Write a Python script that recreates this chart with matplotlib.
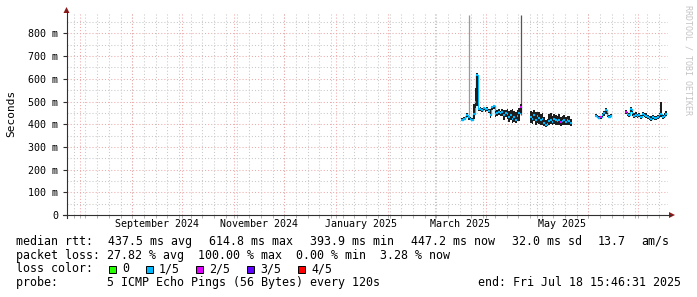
import numpy as np
import matplotlib
matplotlib.use('Agg')
import matplotlib.pyplot as plt
import matplotlib.dates as mdates
from matplotlib.lines import Line2D
from matplotlib.patches import Polygon, Rectangle
from datetime import datetime, timedelta

# ---- data (daily median rtt in ms, smoke range, loss out of 5) ----
seg_start = ['2025-03-17', '2025-04-27', '2025-06-05', '2025-06-23']
med_ms = [
    [420, 425, 432, 440, 430, 425, 420, 445, 500, 615, 465, 468, 462, 470, 465, 468, 458, 440,
     475, 480, 445, 450, 455, 448, 452, 440, 450, 445, 432, 440, 425, 430, 420, 438, 450, 475],
    [430, 425, 440, 420, 435, 428, 418, 422, 405, 398, 402, 415, 420, 410, 425, 418, 412, 420,
     408, 415, 420, 410, 418, 412, 405],
    [438, 432, 428, 430, 440, 448, 462, 440, 432, 438],
    [453, 445, 440, 467, 448, 438, 442, 435, 440, 432, 445, 440, 438, 430, 428, 425, 430, 426,
     428, 432, 440, 445, 432, 438, 447],
]
lo_ms = [
    [414, 418, 426, 430, 420, 418, 414, 425, 470, 480, 458, 460, 455, 462, 456, 460, 448, 428,
     462, 466, 430, 436, 440, 436, 438, 420, 432, 425, 410, 420, 405, 410, 405, 412, 415, 448],
    [405, 400, 412, 398, 405, 400, 395, 398, 390, 388, 392, 395, 400, 395, 400, 396, 395, 398,
     394, 396, 398, 395, 396, 395, 392],
    [430, 426, 422, 424, 432, 438, 445, 432, 426, 430],
    [443, 434, 430, 452, 436, 428, 432, 426, 430, 423, 434, 430, 428, 422, 418, 416, 422, 418,
     420, 424, 428, 433, 424, 428, 438],
]
hi_ms = [
    [426, 432, 438, 448, 438, 432, 426, 490, 560, 624, 472, 475, 470, 478, 472, 476, 466, 465,
     482, 486, 460, 462, 466, 460, 466, 462, 464, 466, 460, 462, 465, 458, 452, 462, 472, 488],
    [460, 455, 462, 452, 456, 452, 444, 448, 430, 420, 425, 445, 448, 436, 446, 442, 434, 444,
     432, 438, 442, 432, 436, 434, 424],
    [447, 440, 436, 438, 448, 458, 470, 448, 440, 446],
    [462, 454, 450, 474, 457, 448, 452, 444, 450, 442, 454, 450, 448, 440, 438, 434, 440, 436,
     438, 442, 450, 500, 442, 448, 457],
]
loss = [
    [1, 1, 0, 1, 1, 1, 1, 1, 1, 1, 1, 1, 1, 1, 1, 1, 1, 1,
     1, 1, 1, 1, 1, 1, 1, 1, 1, 1, 1, 1, 1, 1, 1, 1, 1, 2],
    [1, 1, 1, 1, 1, 1, 1, 1, 1, 1, 1, 1, 1, 1, 1, 1, 1, 1,
     2, 1, 1, 1, 1, 1, 1],
    [1, 1, 1, 2, 1, 1, 1, 1, 1, 1],
    [2, 1, 1, 1, 1, 1, 1, 1, 1, 1, 1, 1, 1, 1, 1, 1, 1, 1,
     1, 1, 1, 1, 1, 1, 1],
]
# single outlier pings reaching near the top of the graph
spike_dates = ['2025-03-21', '2025-04-21']
spike_top = [880, 880]
spike_colors = ['#9a9a9a', '#555555']

loss_colors = ['#26ff00', '#00b8ff', '#dd00ff', '#6000ff', '#ff0000']
loss_labels = ['0', '1/5', '2/5', '3/5', '4/5']

W, H = 697, 297
mono = 'DejaVu Sans Mono'

def fx(x):
    return x / W

def fy(y):
    return 1 - y / H

fig = plt.figure(figsize=(W / 100, H / 100), dpi=100)
fig.patch.set_facecolor('white')

end = datetime(2025, 7, 18, 15, 46, 31)
start = end - timedelta(days=360)

ax = fig.add_axes([fx(66.5), fy(215), (668 - 66.5) / W, (215 - 13) / H])
ax.set_xlim(start, end)
ax.set_ylim(0, 890)
for s in ax.spines.values():
    s.set_visible(False)
ax.patch.set_alpha(0)

# grid
minor_c = '#c8c8c8'
major_c = '#eeaaaa'
dots = (0, (1, 2))
for v in range(50, 890, 100):
    ax.axhline(v, color=minor_c, lw=0.75, ls=dots, zorder=0)
for v in range(100, 890, 100):
    ax.axhline(v, color=major_c, lw=0.75, ls=dots, zorder=0)

weeks = []
d = datetime(2024, 7, 28)
while d < end:
    weeks.append(d)
    d += timedelta(days=7)
months = []
for y, m in [(2024, 8), (2024, 9), (2024, 10), (2024, 11), (2024, 12), (2025, 1),
             (2025, 2), (2025, 3), (2025, 4), (2025, 5), (2025, 6), (2025, 7)]:
    months.append(datetime(y, m, 1))
for d in weeks:
    ax.axvline(d, color=minor_c, lw=0.75, ls=dots, zorder=0)
for d in months:
    ax.axvline(d, color=major_c, lw=0.75, ls=dots, zorder=0)

# ticks
ax.set_yticks(range(0, 900, 100))
ax.set_yticklabels(['0'] + ['%d m' % v for v in range(100, 900, 100)])
ax.tick_params(axis='y', length=3, width=0.8, color='#303030', pad=3,
               labelsize=7.2, labelcolor='#000000')
label_months = [datetime(2024, 9, 16), datetime(2024, 11, 16), datetime(2025, 1, 16),
                datetime(2025, 3, 16), datetime(2025, 5, 16)]
ax.set_xticks(label_months)
ax.set_xticklabels(['September 2024', 'November 2024', 'January 2025', 'March 2025', 'May 2025'])
ax.set_xticks(weeks + months, minor=True)
ax.tick_params(axis='x', which='major', length=0, pad=3, labelsize=7.2)
ax.tick_params(axis='x', which='minor', length=2.5, width=0.7, color='#b0b0b0')
for lab in ax.get_xticklabels() + ax.get_yticklabels():
    lab.set_family(mono)

# smoke + median: connectors under the smoke, median dashes on top
for k in range(len(seg_start)):
    t0 = mdates.date2num(datetime.strptime(seg_start[k], '%Y-%m-%d')) + 0.5
    xs = t0 + np.arange(len(med_ms[k]))
    lo = np.array(lo_ms[k])
    hi = np.array(hi_ms[k])
    ax.step(xs, med_ms[k], where='mid', color=loss_colors[1], lw=1.0, zorder=2)
    ax.bar(xs, hi - lo, bottom=lo, width=1.0, color='#1e1e1e', linewidth=0, zorder=3)
    for x, m, l in zip(xs, med_ms[k], loss[k]):
        ax.hlines(m, x - 0.5, x + 0.5, color=loss_colors[l], lw=1.5, zorder=4)

for d, top, c in zip(spike_dates, spike_top, spike_colors):
    x = mdates.date2num(datetime.strptime(d, '%Y-%m-%d')) + 0.5
    ax.vlines(x, 440, top, color=c, lw=0.9, zorder=2)

# axis lines with arrows
fig.add_artist(Line2D([fx(63), fx(671)], [fy(215), fy(215)], color='#303030', lw=0.8))
fig.add_artist(Line2D([fx(66.5), fx(66.5)], [fy(218), fy(11)], color='#303030', lw=0.8))
fig.add_artist(Polygon([(fx(669), fy(212)), (fx(675), fy(215)), (fx(669), fy(218))],
                       closed=True, color='#8b1a1a', lw=0))
fig.add_artist(Polygon([(fx(63.5), fy(13)), (fx(66.5), fy(7)), (fx(69.5), fy(13))],
                       closed=True, color='#8b1a1a', lw=0))

# labels
fig.text(fx(11), fy(113), 'Seconds', rotation=90, ha='center', va='center',
         family=mono, size=8)
fig.text(fx(688), fy(60), 'RRDTOOL / TOBI OETIKER', rotation=270, ha='center', va='center',
         family=mono, size=6, color='#c4c4c4')

fs = 8.4
rows = [241.5, 255, 269, 282.5]
line1 = [('median rtt:', 16), ('437.5 ms avg', 108), ('614.8 ms max', 209), ('393.9 ms min', 310),
         ('447.2 ms now', 411), ('32.0 ms sd', 512), ('13.7', 598)]
for s, x in line1:
    fig.text(fx(x), fy(rows[0]), s, family=mono, size=fs, va='center', ha='left')
fig.text(fx(669), fy(rows[0]), 'am/s', family=mono, size=fs, va='center', ha='right')
fig.text(fx(16), fy(rows[1]), 'packet loss: 27.82 % avg  100.00 % max  0.00 % min  3.28 % now',
         family=mono, size=fs, va='center', ha='left')
fig.text(fx(16), fy(rows[2]), 'loss color:', family=mono, size=fs, va='center', ha='left')
box_x = [109, 146, 196, 247, 298]
for bx, c, lab in zip(box_x, loss_colors, loss_labels):
    fig.add_artist(Rectangle((fx(bx), fy(rows[2] + 3.5)), 7 / W, 7 / H, facecolor=c,
                             edgecolor='black', lw=0.7))
    fig.text(fx(bx + 13), fy(rows[2]), lab, family=mono, size=fs, va='center', ha='left')
fig.text(fx(16), fy(rows[3]), 'probe:       5 ICMP Echo Pings (56 Bytes) every 120s',
         family=mono, size=fs, va='center', ha='left')
fig.text(fx(681), fy(rows[3]), 'end: Fri Jul 18 15:46:31 2025', family=mono, size=fs,
         va='center', ha='right')

fig.savefig('out.png', dpi=100, facecolor='white')
